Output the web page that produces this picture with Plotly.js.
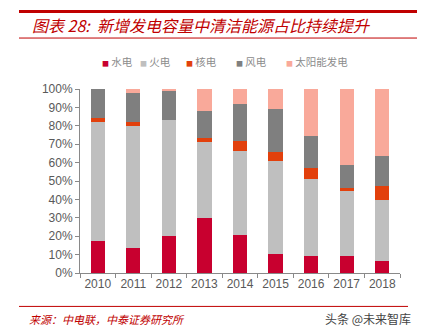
<!DOCTYPE html>
<html><head><meta charset="utf-8">
<script src="https://cdn.plot.ly/plotly-3.0.1.min.js"></script>
<style>html,body{margin:0;padding:0;background:#fff;}#chart{width:422px;height:334px;}</style>
</head><body><div id="chart"></div>
<script>
var years = ['2010','2011','2012','2013','2014','2015','2016','2017','2018'];
var seriesNames = ['水电','火电','核电','风电','太阳能发电'];
var hydro   = [17.4, 13.6, 20.2, 30.0, 20.6, 10.4,  9.5,  9.5,  6.4];
var thermal = [64.4, 66.2, 62.7, 41.3, 45.9, 50.5, 41.8, 35.0, 33.2];
var nuclear = [ 2.2,  2.2,  0.0,  2.0,  5.5,  5.1,  5.8,  1.5,  7.7];
var wind    = [16.0, 16.1, 16.0, 14.5, 20.0, 23.3, 17.1, 12.7, 16.3];
var solar   = [ 0.0,  1.9,  1.1, 12.2,  8.0, 10.7, 25.8, 41.3, 36.4];
var yTicks = [0,10,20,30,40,50,60,70,80,90,100];
var titleText = '图表 28:  新增发电容量中清洁能源占比持续提升';
var sourceText = '来源：中电联，中泰证券研究所';
var watermark = '头条 @未来智库';

var colors = ['#C8002F','#BFBFBF','#E2400C','#7F7F7F','#F9A99A'];
var values = [hydro, thermal, nuclear, wind, solar];

// plot area in pixels
var L = 80, R = 400, T = 89.3, B = 272.7;
function px(x){ return (x - L) / (R - L); }
function py(y){ return (B - y) / (B - T); }

var traces = values.map(function(v, i){
  return {type:'bar', x: years, y: v, name: seriesNames[i],
    marker:{color: colors[i], line:{width:0}}, showlegend:false, hoverinfo:'skip'};
});

var legendX = [100.2, 137.5, 184.2, 234.2, 284.2];
var annotations = [
  {text: titleText, xref:'paper', yref:'paper', x: px(30), y: py(25.5), xanchor:'left', yanchor:'middle',
   showarrow:false, font:{family:'Noto Sans CJK SC', size:16, color:'#C00000', style:'italic'}},
  {text: sourceText, xref:'paper', yref:'paper', x: px(27), y: py(318.5), xanchor:'left', yanchor:'middle',
   showarrow:false, font:{family:'Noto Sans CJK SC', size:11, color:'#C00000', style:'italic'}},
  {text: watermark, xref:'paper', yref:'paper', x: px(413), y: py(318.5), xanchor:'right', yanchor:'middle',
   showarrow:false, font:{family:'Noto Sans CJK SC', size:12, color:'#444444'}}
];
seriesNames.forEach(function(n, i){
  annotations.push({text: '<span style="color:' + colors[i] + ';font-size:7px">■</span> ' + n,
    xref:'paper', yref:'paper', x: px(legendX[i]), y: py(62), xanchor:'left', yanchor:'middle',
    showarrow:false, font:{family:'Noto Sans CJK SC', size:10.5, color:'#8C8C8C'}});
});

var shapes = [
  {type:'line', xref:'paper', yref:'paper', x0: px(19), x1: px(417), y0: py(12), y1: py(12), line:{color:'#C00000', width:3}},
  {type:'line', xref:'paper', yref:'paper', x0: px(19), x1: px(417), y0: py(38.5), y1: py(38.5), line:{color:'#C00000', width:1}},
  {type:'line', xref:'paper', yref:'paper', x0: px(19), x1: px(408), y0: py(306), y1: py(306), line:{color:'#C00000', width:1}}
];

var layout = {
  width:422, height:334, barmode:'stack', bargap:0.6,
  margin:{l:L, r:422-R, t:T, b:334-B, pad:0},
  paper_bgcolor:'#fff', plot_bgcolor:'#fff',
  font:{family:'Liberation Sans, Arial', color:'#595959'},
  xaxis:{type:'category', tickson:'boundaries', ticks:'outside', ticklen:4, tickcolor:'#898989',
    tickangle:0, automargin:false, showline:true, linecolor:'#898989', linewidth:1, showgrid:false, fixedrange:true,
    tickfont:{size:12, color:'#595959'}},
  yaxis:{range:[0,100], tickvals:yTicks, ticktext:yTicks.map(function(t){return t+'%';}),
    ticks:'outside', ticklen:4, tickcolor:'#898989', showline:true, linecolor:'#898989', linewidth:1,
    showgrid:false, zeroline:false, fixedrange:true, automargin:false, tickfont:{size:12, color:'#595959'}},
  annotations: annotations, shapes: shapes, showlegend:false
};
Plotly.newPlot('chart', traces, layout, {staticPlot:true, displayModeBar:false});
</script></body></html>
